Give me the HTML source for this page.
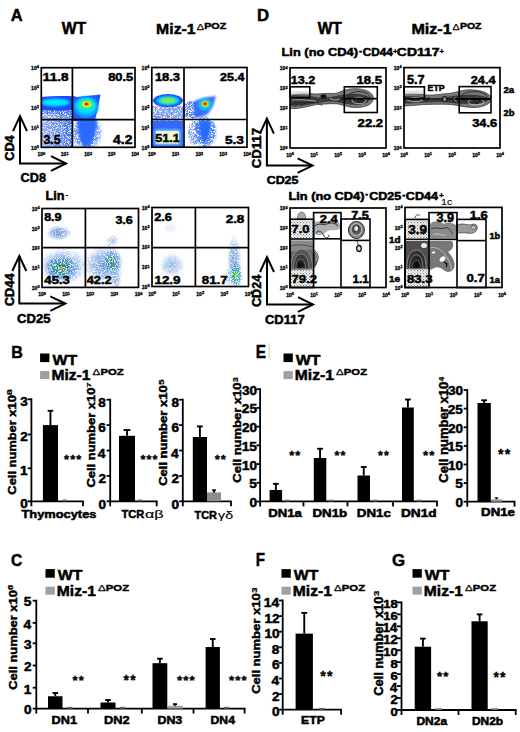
<!DOCTYPE html>
<html><head><meta charset="utf-8"><style>
html,body{margin:0;padding:0;background:#fff;overflow:hidden;}
svg{display:block;}
text{font-family:"Liberation Sans",sans-serif;font-weight:bold;fill:#000;}
</style></head><body>
<svg width="520" height="732" viewBox="0 0 520 732">
<defs>
<filter id="b05" x="-30%" y="-30%" width="160%" height="160%"><feGaussianBlur stdDeviation="0.5"/></filter>
<filter id="b1" x="-30%" y="-30%" width="160%" height="160%"><feGaussianBlur stdDeviation="1"/></filter>
<filter id="b2" x="-30%" y="-30%" width="160%" height="160%"><feGaussianBlur stdDeviation="2"/></filter>
<filter id="b3" x="-30%" y="-30%" width="160%" height="160%"><feGaussianBlur stdDeviation="3"/></filter>
<radialGradient id="gDP">
 <stop offset="0" stop-color="#c00000"/>
 <stop offset="0.12" stop-color="#ff6000"/>
 <stop offset="0.22" stop-color="#ffee00"/>
 <stop offset="0.36" stop-color="#50ff40"/>
 <stop offset="0.55" stop-color="#00f0ff"/>
 <stop offset="0.8" stop-color="#0090ff"/>
 <stop offset="1" stop-color="#1a55ff" stop-opacity="0"/>
</radialGradient>
<radialGradient id="gDP2">
 <stop offset="0" stop-color="#d00000"/>
 <stop offset="0.15" stop-color="#ff5000"/>
 <stop offset="0.3" stop-color="#e8f000"/>
 <stop offset="0.45" stop-color="#30e080"/>
 <stop offset="0.65" stop-color="#10a0ff"/>
 <stop offset="1" stop-color="#1a55ff" stop-opacity="0"/>
</radialGradient>
<radialGradient id="gBand2">
 <stop offset="0" stop-color="#a0f040"/>
 <stop offset="0.25" stop-color="#40f0a0"/>
 <stop offset="0.5" stop-color="#00e0ff"/>
 <stop offset="0.78" stop-color="#0a70ff"/>
 <stop offset="1" stop-color="#1a50ff" stop-opacity="0"/>
</radialGradient>
<radialGradient id="gLin">
 <stop offset="0" stop-color="#308040"/>
 <stop offset="0.2" stop-color="#309060"/>
 <stop offset="0.45" stop-color="#3090a8" stop-opacity="0.9"/>
 <stop offset="0.75" stop-color="#5a90d8" stop-opacity="0.7"/>
 <stop offset="1" stop-color="#90b0e8" stop-opacity="0"/>
</radialGradient>
<radialGradient id="gLinF">
 <stop offset="0" stop-color="#5088d0" stop-opacity="0.8"/>
 <stop offset="0.6" stop-color="#70a0e0" stop-opacity="0.55"/>
 <stop offset="1" stop-color="#a0c0e8" stop-opacity="0"/>
</radialGradient>
<radialGradient id="gLinY">
 <stop offset="0" stop-color="#c0d000"/>
 <stop offset="0.3" stop-color="#30c080"/>
 <stop offset="0.6" stop-color="#3090d0" stop-opacity="0.8"/>
 <stop offset="1" stop-color="#80b0e8" stop-opacity="0"/>
</radialGradient>
<radialGradient id="gGray">
 <stop offset="0" stop-color="#202020"/>
 <stop offset="0.5" stop-color="#606060"/>
 <stop offset="0.85" stop-color="#a0a0a0"/>
 <stop offset="1" stop-color="#d0d0d0" stop-opacity="0"/>
</radialGradient>
<pattern id="stip" width="3" height="3" patternUnits="userSpaceOnUse">
 <rect width="3" height="3" fill="#fff"/><rect x="0" y="0" width="1.2" height="1.2" fill="#777"/><rect x="1.5" y="1.5" width="1.2" height="1.2" fill="#999"/>
</pattern>
<filter id="spk" x="-5%" y="-5%" width="110%" height="110%">
 <feTurbulence type="fractalNoise" baseFrequency="1.3" numOctaves="2" seed="5" result="n"/>
 <feColorMatrix in="n" type="matrix" values="0 0 0 0 0  0 0 0 0 0  0 0 0 0 0  -7 0 0 0 4.35" result="m"/>
 <feComposite in="SourceGraphic" in2="m" operator="in" result="c"/>
 <feGaussianBlur in="c" stdDeviation="0.35"/>
</filter>
</defs>

<rect width="520" height="732" fill="#fff"/>
<text x="10.74" y="21.45" font-size="17.39" textLength="11.86" lengthAdjust="spacingAndGlyphs" stroke="#000" stroke-width="0.5">A</text>
<text x="61.65" y="34.35" font-size="16.09" textLength="24.45" lengthAdjust="spacingAndGlyphs" stroke="#000" stroke-width="0.5">WT</text>
<text x="156.13" y="34.05" font-size="15.03" textLength="39.42" lengthAdjust="spacingAndGlyphs" stroke="#000" stroke-width="0.5">Miz-1</text>
<text x="196.67" y="29.6" font-size="9.71" textLength="7.27" lengthAdjust="spacingAndGlyphs" stroke="#000" stroke-width="0.25" style="font-weight:normal">Δ</text><text x="204.18" y="29.49" font-size="9.38" textLength="22.03" lengthAdjust="spacingAndGlyphs" stroke="#000" stroke-width="0.45">POZ</text>
<text x="257.06" y="21.45" font-size="17.39" textLength="12.1" lengthAdjust="spacingAndGlyphs" stroke="#000" stroke-width="0.5">D</text>
<text x="317.65" y="34.35" font-size="16.09" textLength="24.15" lengthAdjust="spacingAndGlyphs" stroke="#000" stroke-width="0.5">WT</text>
<text x="411.4" y="34.05" font-size="15.03" textLength="40.25" lengthAdjust="spacingAndGlyphs" stroke="#000" stroke-width="0.5">Miz-1</text>
<text x="452.58" y="29.6" font-size="9.71" textLength="7.11" lengthAdjust="spacingAndGlyphs" stroke="#000" stroke-width="0.25" style="font-weight:normal">Δ</text><text x="459.93" y="29.49" font-size="9.38" textLength="21.57" lengthAdjust="spacingAndGlyphs" stroke="#000" stroke-width="0.45">POZ</text>
<clipPath id="cA1"><rect x="41.3" y="67.7" width="93.7" height="79.60000000000001"/></clipPath>
<g clip-path="url(#cA1)">
<defs><linearGradient id="gLL" x1="0" y1="0" x2="1" y2="0"><stop offset="0" stop-color="#8eaaf2"/><stop offset="0.55" stop-color="#6a90f0"/><stop offset="1" stop-color="#3a70f8"/></linearGradient></defs>
<rect x="41" y="106" width="32" height="42" fill="#e6edfc"/>
<g filter="url(#spk)">
<rect x="41" y="106" width="32" height="42" fill="url(#gLL)"/>
<rect x="41" y="106" width="32" height="8" fill="#4a78f4"/>
<ellipse cx="86.5" cy="133" rx="14" ry="16" fill="#5a88f4" filter="url(#b2)"/>
</g>
<path d="M41,97 C52,95.8 64,95.8 76,96.5 L76,110 C64,110.5 52,110.5 41,110 Z" fill="#1a4cff" filter="url(#b05)"/>
<ellipse cx="55.5" cy="102.6" rx="14" ry="3.9" fill="#00e8ff" filter="url(#b1)"/>
<path d="M72,97.5 L100.5,94.5 L99.5,100 L97.5,110 L95.5,118 L94,121 L72,121 Z" fill="#1a58ff" filter="url(#b05)"/>
<ellipse cx="86" cy="107" rx="12.5" ry="10.5" fill="#10a0ff" filter="url(#b1)"/>
<ellipse cx="86" cy="106" rx="10" ry="8" fill="#00e0ff" filter="url(#b1)"/>
<ellipse cx="86.5" cy="104.6" rx="7" ry="4.5" fill="#40ff60" filter="url(#b1)"/>
<ellipse cx="86.6" cy="104.2" rx="4" ry="2.7" fill="#ffee00" filter="url(#b05)"/>
<ellipse cx="86.6" cy="104.1" rx="2.2" ry="1.5" fill="#e02000" filter="url(#b05)"/>
<path d="M77,119 L97,119 L96,129 L93.5,139 L90,146 L83,146.5 L80,139 L78,128 Z" fill="#2a6aff" filter="url(#b1)"/>
</g>
<rect x="41.3" y="67.7" width="93.7" height="79.6" fill="none" stroke="#000" stroke-width="1.7"/>
<line x1="72.4" y1="67.7" x2="72.4" y2="147.3" stroke="#000" stroke-width="1.7"/>
<line x1="41.3" y1="119.6" x2="135" y2="119.6" stroke="#000" stroke-width="1.7"/>
<text x="42.87" y="81.44" font-size="11.27" textLength="25.6" lengthAdjust="spacingAndGlyphs" stroke="#000" stroke-width="0.5">11.8</text>
<text x="108.16" y="81.44" font-size="11.27" textLength="25.02" lengthAdjust="spacingAndGlyphs" stroke="#000" stroke-width="0.5">80.5</text>
<text x="43.44" y="143.93" font-size="11.97" textLength="17.22" lengthAdjust="spacingAndGlyphs" stroke="#000" stroke-width="0.5">3.5</text>
<text x="113.14" y="144.05" font-size="12.14" textLength="19.26" lengthAdjust="spacingAndGlyphs" stroke="#000" stroke-width="0.5">4.2</text>
<g stroke="#000" stroke-width="0.3"><text x="41.3" y="156.3" font-size="5.0" text-anchor="middle">10<tspan dy="-1.6" font-size="3.8">0</tspan></text><text x="38.8" y="149.6" font-size="5.0" text-anchor="end">10<tspan dy="-1.6" font-size="3.8">0</tspan></text><text x="64.7" y="156.3" font-size="5.0" text-anchor="middle">10<tspan dy="-1.6" font-size="3.8">1</tspan></text><text x="38.8" y="129.7" font-size="5.0" text-anchor="end">10<tspan dy="-1.6" font-size="3.8">1</tspan></text><text x="88.2" y="156.3" font-size="5.0" text-anchor="middle">10<tspan dy="-1.6" font-size="3.8">2</tspan></text><text x="38.8" y="109.8" font-size="5.0" text-anchor="end">10<tspan dy="-1.6" font-size="3.8">2</tspan></text><text x="111.6" y="156.3" font-size="5.0" text-anchor="middle">10<tspan dy="-1.6" font-size="3.8">3</tspan></text><text x="38.8" y="89.9" font-size="5.0" text-anchor="end">10<tspan dy="-1.6" font-size="3.8">3</tspan></text><text x="135.0" y="156.3" font-size="5.0" text-anchor="middle">10<tspan dy="-1.6" font-size="3.8">4</tspan></text><text x="38.8" y="70.0" font-size="5.0" text-anchor="end">10<tspan dy="-1.6" font-size="3.8">4</tspan></text></g>
<clipPath id="cA2"><rect x="151.8" y="67.5" width="95.19999999999999" height="79.69999999999999"/></clipPath>
<g clip-path="url(#cA2)">
<rect x="152" y="106" width="32" height="15" fill="#e6edfc"/>
<g filter="url(#spk)">
<rect x="152" y="106" width="32" height="15" fill="#7a9cf0"/>
<ellipse cx="192" cy="110" rx="10" ry="9" fill="#5a88f0"/>
<ellipse cx="194" cy="133" rx="6" ry="12" fill="#8aa8f0"/>
<ellipse cx="205" cy="132" rx="11" ry="15" fill="#4a80f4" filter="url(#b1)"/>
</g>
<rect x="152" y="121" width="31" height="26" fill="#3068ff" filter="url(#b05)"/>
<rect x="154.5" y="129.5" width="26" height="15.5" rx="2" fill="#70d0f4" filter="url(#b1)"/>
<rect x="156" y="131" width="23" height="12.5" rx="1" fill="#f2f8d4" filter="url(#b05)"/>
<ellipse cx="168" cy="100.6" rx="15" ry="6.6" fill="#1a50ff" filter="url(#b05)"/>
<ellipse cx="168" cy="100.6" rx="11.5" ry="4.4" fill="#00e0ff" filter="url(#b1)"/>
<ellipse cx="168" cy="100.6" rx="8" ry="2.8" fill="#80f040" filter="url(#b1)"/>
<path d="M194,101 L205,97.5 L216,96 L213,106 L208,114 L200,117.5 L194,116 Z" fill="#3068ff" opacity="0.95" filter="url(#b1)"/>
<ellipse cx="205" cy="104.5" rx="7" ry="6" fill="#10c0ff" filter="url(#b1)"/>
<ellipse cx="205.2" cy="104" rx="4.2" ry="3.5" fill="#60f040" filter="url(#b05)"/>
<ellipse cx="205.2" cy="103.9" rx="2.8" ry="2.3" fill="#ffd000" filter="url(#b05)"/>
<ellipse cx="205.2" cy="103.8" rx="1.8" ry="1.5" fill="#e02000" filter="url(#b05)"/>
<path d="M199,121 L211,121 L210,132 L207.5,140 L204,143 L201,138 L199.5,130 Z" fill="#2a6aff" filter="url(#b1)"/>
</g>
<rect x="151.8" y="67.5" width="95.2" height="79.7" fill="none" stroke="#000" stroke-width="1.7"/>
<line x1="184" y1="67.5" x2="184" y2="147.2" stroke="#000" stroke-width="1.7"/>
<line x1="151.8" y1="119.5" x2="247" y2="119.5" stroke="#000" stroke-width="1.7"/>
<text x="154.92" y="80.74" font-size="10.99" textLength="25" lengthAdjust="spacingAndGlyphs" stroke="#000" stroke-width="0.5">18.3</text>
<text x="220.11" y="80.74" font-size="10.99" textLength="24.21" lengthAdjust="spacingAndGlyphs" stroke="#000" stroke-width="0.5">25.4</text>
<text x="155.37" y="141.74" font-size="11.29" textLength="24.41" lengthAdjust="spacingAndGlyphs" stroke="#000" stroke-width="0.5">51.1</text>
<text x="224.94" y="143.93" font-size="11.55" textLength="18.99" lengthAdjust="spacingAndGlyphs" stroke="#000" stroke-width="0.5">5.3</text>
<g stroke="#000" stroke-width="0.3"><text x="151.8" y="156.2" font-size="5.0" text-anchor="middle">10<tspan dy="-1.6" font-size="3.8">0</tspan></text><text x="149.3" y="149.5" font-size="5.0" text-anchor="end">10<tspan dy="-1.6" font-size="3.8">0</tspan></text><text x="175.6" y="156.2" font-size="5.0" text-anchor="middle">10<tspan dy="-1.6" font-size="3.8">1</tspan></text><text x="149.3" y="129.6" font-size="5.0" text-anchor="end">10<tspan dy="-1.6" font-size="3.8">1</tspan></text><text x="199.4" y="156.2" font-size="5.0" text-anchor="middle">10<tspan dy="-1.6" font-size="3.8">2</tspan></text><text x="149.3" y="109.6" font-size="5.0" text-anchor="end">10<tspan dy="-1.6" font-size="3.8">2</tspan></text><text x="223.2" y="156.2" font-size="5.0" text-anchor="middle">10<tspan dy="-1.6" font-size="3.8">3</tspan></text><text x="149.3" y="89.7" font-size="5.0" text-anchor="end">10<tspan dy="-1.6" font-size="3.8">3</tspan></text><text x="247.0" y="156.2" font-size="5.0" text-anchor="middle">10<tspan dy="-1.6" font-size="3.8">4</tspan></text><text x="149.3" y="69.8" font-size="5.0" text-anchor="end">10<tspan dy="-1.6" font-size="3.8">4</tspan></text></g>
<path d="M20.0,116.10000000000001 L20.0,163.5 L66.0,163.5" fill="none" stroke="#000" stroke-width="2.0"/><path d="M13.0,131.10000000000002 L20.0,116.10000000000001 L27.0,131.10000000000002" fill="none" stroke="#000" stroke-width="2.0"/><path d="M51.0,156.2 L66.0,163.5 L51.0,170.8" fill="none" stroke="#000" stroke-width="2.0"/>
<text transform="translate(13.63,160.76) rotate(-90)" x="0" y="0" font-size="12.39" textLength="25.38" lengthAdjust="spacingAndGlyphs" stroke="#000" stroke-width="0.5">CD4</text>
<text x="20.64" y="181.83" font-size="12.11" textLength="25.4" lengthAdjust="spacingAndGlyphs" stroke="#000" stroke-width="0.5">CD8</text>
<text x="45.63" y="200.45" font-size="12" textLength="18.98" lengthAdjust="spacingAndGlyphs" stroke="#000" stroke-width="0.5">Lin</text>
<text x="65.71" y="197.42" font-size="5.83" textLength="1.96" lengthAdjust="spacingAndGlyphs" stroke="#000" stroke-width="0.5">-</text>
<clipPath id="cA3"><rect x="42" y="208.5" width="96.5" height="78.89999999999998"/></clipPath>
<g clip-path="url(#cA3)">
<g opacity="0.35"><ellipse cx="62" cy="267" rx="24" ry="18" fill="url(#gLinF)"/><ellipse cx="105" cy="264" rx="20" ry="20" fill="url(#gLinF)"/><ellipse cx="59" cy="233" rx="13" ry="8" fill="url(#gLinF)"/></g>
<g filter="url(#spk)">
<ellipse cx="59" cy="233" rx="13" ry="8" fill="url(#gLinF)"/>
<ellipse cx="58" cy="232.5" rx="7" ry="4" fill="#6a98dc" opacity="0.45" filter="url(#b1)"/>
<ellipse cx="112" cy="241" rx="8" ry="6" fill="url(#gLinF)" opacity="0.7" transform="rotate(-35 112 241)"/>
<ellipse cx="64" cy="266" rx="26" ry="19" fill="url(#gLinF)"/>
<ellipse cx="61" cy="268" rx="17" ry="13" fill="url(#gLin)"/>
<ellipse cx="61" cy="268.5" rx="2" ry="1.8" fill="#b08030" opacity="0.8" filter="url(#b05)"/>
<ellipse cx="104" cy="265" rx="21" ry="20" fill="url(#gLinF)"/>
<ellipse cx="112" cy="262" rx="10" ry="14" fill="url(#gLin)" opacity="0.85"/>
<ellipse cx="116" cy="279" rx="6" ry="10" fill="url(#gLinF)"/>
</g></g>
<rect x="42" y="208.5" width="96.5" height="78.9" fill="none" stroke="#000" stroke-width="1.7"/>
<line x1="85.4" y1="208.5" x2="85.4" y2="287.4" stroke="#000" stroke-width="1.7"/>
<line x1="42" y1="247.7" x2="138.5" y2="247.7" stroke="#000" stroke-width="1.7"/>
<text x="44.17" y="221.04" font-size="10.99" textLength="17.42" lengthAdjust="spacingAndGlyphs" stroke="#000" stroke-width="0.5">8.9</text>
<text x="115.44" y="223.54" font-size="10.99" textLength="17.35" lengthAdjust="spacingAndGlyphs" stroke="#000" stroke-width="0.5">3.6</text>
<text x="44.35" y="283.94" font-size="11.13" textLength="25.57" lengthAdjust="spacingAndGlyphs" stroke="#000" stroke-width="0.5">45.3</text>
<text x="86.66" y="284.05" font-size="11.29" textLength="25.02" lengthAdjust="spacingAndGlyphs" stroke="#000" stroke-width="0.5">42.2</text>
<g stroke="#000" stroke-width="0.3"><text x="42.0" y="296.4" font-size="5.0" text-anchor="middle">10<tspan dy="-1.6" font-size="3.8">0</tspan></text><text x="39.5" y="289.7" font-size="5.0" text-anchor="end">10<tspan dy="-1.6" font-size="3.8">0</tspan></text><text x="66.1" y="296.4" font-size="5.0" text-anchor="middle">10<tspan dy="-1.6" font-size="3.8">1</tspan></text><text x="39.5" y="270.0" font-size="5.0" text-anchor="end">10<tspan dy="-1.6" font-size="3.8">1</tspan></text><text x="90.2" y="296.4" font-size="5.0" text-anchor="middle">10<tspan dy="-1.6" font-size="3.8">2</tspan></text><text x="39.5" y="250.2" font-size="5.0" text-anchor="end">10<tspan dy="-1.6" font-size="3.8">2</tspan></text><text x="114.4" y="296.4" font-size="5.0" text-anchor="middle">10<tspan dy="-1.6" font-size="3.8">3</tspan></text><text x="39.5" y="230.5" font-size="5.0" text-anchor="end">10<tspan dy="-1.6" font-size="3.8">3</tspan></text><text x="138.5" y="296.4" font-size="5.0" text-anchor="middle">10<tspan dy="-1.6" font-size="3.8">4</tspan></text><text x="39.5" y="210.8" font-size="5.0" text-anchor="end">10<tspan dy="-1.6" font-size="3.8">4</tspan></text></g>
<clipPath id="cA4"><rect x="152" y="207.5" width="96.5" height="79.0"/></clipPath>
<g clip-path="url(#cA4)">
<g opacity="0.35"><ellipse cx="172" cy="265" rx="13" ry="12" fill="url(#gLinF)"/><ellipse cx="235" cy="265" rx="8" ry="26" fill="url(#gLinF)"/></g>
<g filter="url(#spk)">
<ellipse cx="172" cy="265" rx="13" ry="12" fill="url(#gLinF)" opacity="0.6"/>
<ellipse cx="170" cy="228" rx="8" ry="6" fill="url(#gLinF)" opacity="0.25"/>
<ellipse cx="234" cy="258" rx="7" ry="24" fill="url(#gLinF)"/>
<ellipse cx="229" cy="277" rx="6" ry="10" fill="url(#gLinF)" opacity="0.8"/>
<ellipse cx="236" cy="275" rx="7" ry="14" fill="url(#gLinY)"/>
</g></g>
<rect x="152" y="207.5" width="96.5" height="79" fill="none" stroke="#000" stroke-width="1.7"/>
<line x1="195.4" y1="207.5" x2="195.4" y2="286.5" stroke="#000" stroke-width="1.7"/>
<line x1="152" y1="247.7" x2="248.5" y2="247.7" stroke="#000" stroke-width="1.7"/>
<text x="154.2" y="220.74" font-size="11.13" textLength="17.69" lengthAdjust="spacingAndGlyphs" stroke="#000" stroke-width="0.5">2.6</text>
<text x="225.68" y="222.74" font-size="11.41" textLength="18.68" lengthAdjust="spacingAndGlyphs" stroke="#000" stroke-width="0.5">2.8</text>
<text x="154.48" y="283.74" font-size="11.41" textLength="26.06" lengthAdjust="spacingAndGlyphs" stroke="#000" stroke-width="0.5">12.9</text>
<text x="201.86" y="283.74" font-size="11.41" textLength="25.6" lengthAdjust="spacingAndGlyphs" stroke="#000" stroke-width="0.5">81.7</text>
<g stroke="#000" stroke-width="0.3"><text x="152.0" y="295.5" font-size="5.0" text-anchor="middle">10<tspan dy="-1.6" font-size="3.8">0</tspan></text><text x="149.5" y="288.8" font-size="5.0" text-anchor="end">10<tspan dy="-1.6" font-size="3.8">0</tspan></text><text x="176.1" y="295.5" font-size="5.0" text-anchor="middle">10<tspan dy="-1.6" font-size="3.8">1</tspan></text><text x="149.5" y="269.1" font-size="5.0" text-anchor="end">10<tspan dy="-1.6" font-size="3.8">1</tspan></text><text x="200.2" y="295.5" font-size="5.0" text-anchor="middle">10<tspan dy="-1.6" font-size="3.8">2</tspan></text><text x="149.5" y="249.3" font-size="5.0" text-anchor="end">10<tspan dy="-1.6" font-size="3.8">2</tspan></text><text x="224.4" y="295.5" font-size="5.0" text-anchor="middle">10<tspan dy="-1.6" font-size="3.8">3</tspan></text><text x="149.5" y="229.6" font-size="5.0" text-anchor="end">10<tspan dy="-1.6" font-size="3.8">3</tspan></text><text x="248.5" y="295.5" font-size="5.0" text-anchor="middle">10<tspan dy="-1.6" font-size="3.8">4</tspan></text><text x="149.5" y="209.8" font-size="5.0" text-anchor="end">10<tspan dy="-1.6" font-size="3.8">4</tspan></text></g>
<path d="M19.3,256.0 L19.3,303.6 L65.3,303.6" fill="none" stroke="#000" stroke-width="2.0"/><path d="M12.3,271.0 L19.3,256.0 L26.3,271.0" fill="none" stroke="#000" stroke-width="2.0"/><path d="M50.3,296.3 L65.3,303.6 L50.3,310.90000000000003" fill="none" stroke="#000" stroke-width="2.0"/>
<text transform="translate(14.02,306.16) rotate(-90)" x="0" y="0" font-size="12.68" textLength="32.8" lengthAdjust="spacingAndGlyphs" stroke="#000" stroke-width="0.5">CD44</text>
<text x="17.13" y="323.33" font-size="11.97" textLength="33.27" lengthAdjust="spacingAndGlyphs" stroke="#000" stroke-width="0.5">CD25</text>
<text x="281.51" y="56.2" font-size="10.83" textLength="76.46" lengthAdjust="spacingAndGlyphs" stroke="#000" stroke-width="0.5">Lin (no CD4)</text>
<text x="359.04" y="53.7" font-size="10" textLength="3" lengthAdjust="spacingAndGlyphs" stroke="#000" stroke-width="0.5">-</text>
<text x="362.78" y="55.74" font-size="10.56" textLength="30.05" lengthAdjust="spacingAndGlyphs" stroke="#000" stroke-width="0.5">CD44</text>
<text x="392.9" y="53.86" font-size="7.45" textLength="4.39" lengthAdjust="spacingAndGlyphs" stroke="#000" stroke-width="0.35">+</text>
<text x="396.89" y="55.74" font-size="10.56" textLength="42.62" lengthAdjust="spacingAndGlyphs" stroke="#000" stroke-width="0.5">CD117</text>
<text x="439.5" y="53.86" font-size="7.45" textLength="4.39" lengthAdjust="spacingAndGlyphs" stroke="#000" stroke-width="0.35">+</text>
<clipPath id="cD1"><rect x="290" y="67.8" width="96" height="80.2"/></clipPath>
<g clip-path="url(#cD1)">
<path d="M290,93.5 C298,93 310,93.5 316,94 C322,94 326,93 332,93.5 C338,94 342,90 350,89 C360,87.8 370,90 373,96 C375,102 369,107 358,107.5 C349,108 344,105 338,104 C331,103 326,104.5 320,104 C312,105 304,108 296,108.5 L290,108.5 Z" fill="#7a7a7a" stroke="#333" stroke-width="0.7"/>
<path d="M290,95.5 C300,95 310,96 318,97.5 C326,98.5 334,96 342,95 C350,93 362,93 369,97 C371,101 366,104.5 356,105 C348,105 340,102 332,101.5 C324,101.5 318,103 310,104.5 C302,106 296,106 290,105.5 Z" fill="#3a3a3a" filter="url(#b05)"/>
<path d="M290,91 L309.8,91 L309.8,94 C302,93.5 296,94 290,94.5 Z" fill="#e4e4e4" filter="url(#b05)"/>
<path d="M291,106 L296,101 M294,107 L303,100.5 M300,106 L309,101" fill="none" stroke="#222" stroke-width="0.8"/>
<path d="M292,100 C300,99 308,100.5 316,101" fill="none" stroke="#ccc" stroke-width="0.7"/>
<path d="M293,103.5 C301,102 308,103 316,102.5" fill="none" stroke="#222" stroke-width="0.8"/>
<ellipse cx="323.5" cy="96.5" rx="3" ry="2.2" fill="#111"/>
<path d="M318,101 C317,104 320,106 323,104.5" fill="none" stroke="#222" stroke-width="0.9"/>
<path d="M330,98 C333,100.5 336,100.5 339,99" fill="none" stroke="#ddd" stroke-width="0.7"/>
<ellipse cx="359" cy="97.5" rx="11" ry="6" fill="none" stroke="#222" stroke-width="0.8"/>
<ellipse cx="359" cy="100.5" rx="7" ry="3.2" fill="none" stroke="#ddd" stroke-width="0.7"/>
<ellipse cx="360" cy="101" rx="3.5" ry="1.8" fill="#222"/>
<path d="M341,98.7 L377.3,98.7" stroke="#000" stroke-width="1.8"/>
<path d="M338,95.5 L343,98.7 L338,101.5" fill="none" stroke="#333" stroke-width="0.8"/>
</g>
<rect x="290" y="67.8" width="96" height="80.2" fill="none" stroke="#000" stroke-width="1.7"/>
<rect x="290" y="86.8" width="19.8" height="11" fill="none" stroke="#000" stroke-width="1.6"/>
<rect x="344.3" y="86.8" width="33" height="25.7" fill="none" stroke="#000" stroke-width="1.6"/>
<text x="290.83" y="83.53" font-size="11.83" textLength="24.54" lengthAdjust="spacingAndGlyphs" stroke="#000" stroke-width="0.5">13.2</text>
<text x="356.5" y="83.93" font-size="11.83" textLength="25.5" lengthAdjust="spacingAndGlyphs" stroke="#000" stroke-width="0.5">18.5</text>
<text x="357.59" y="126.95" font-size="11.57" textLength="25.6" lengthAdjust="spacingAndGlyphs" stroke="#000" stroke-width="0.5">22.2</text>
<g stroke="#000" stroke-width="0.3"><text x="290.0" y="157.0" font-size="5.0" text-anchor="middle">10<tspan dy="-1.6" font-size="3.8">0</tspan></text><text x="287.5" y="150.3" font-size="5.0" text-anchor="end">10<tspan dy="-1.6" font-size="3.8">0</tspan></text><text x="314.0" y="157.0" font-size="5.0" text-anchor="middle">10<tspan dy="-1.6" font-size="3.8">1</tspan></text><text x="287.5" y="130.2" font-size="5.0" text-anchor="end">10<tspan dy="-1.6" font-size="3.8">1</tspan></text><text x="338.0" y="157.0" font-size="5.0" text-anchor="middle">10<tspan dy="-1.6" font-size="3.8">2</tspan></text><text x="287.5" y="110.2" font-size="5.0" text-anchor="end">10<tspan dy="-1.6" font-size="3.8">2</tspan></text><text x="362.0" y="157.0" font-size="5.0" text-anchor="middle">10<tspan dy="-1.6" font-size="3.8">3</tspan></text><text x="287.5" y="90.1" font-size="5.0" text-anchor="end">10<tspan dy="-1.6" font-size="3.8">3</tspan></text><text x="386.0" y="157.0" font-size="5.0" text-anchor="middle">10<tspan dy="-1.6" font-size="3.8">4</tspan></text><text x="287.5" y="70.1" font-size="5.0" text-anchor="end">10<tspan dy="-1.6" font-size="3.8">4</tspan></text></g>
<clipPath id="cD2"><rect x="404" y="67.6" width="96" height="80.4"/></clipPath>
<g clip-path="url(#cD2)">
<path d="M404,93.5 C412,93 420,93.5 426,95 C434,95.5 440,94 448,93.5 C454,93 458,91 466,90 C478,89 488,92 491,97 C492,103 486,107 474,107.5 C464,107.5 458,105 450,104.5 C440,104 432,104.5 424,104.5 C416,105 410,106 404,106 Z" fill="#767676" stroke="#333" stroke-width="0.7"/>
<path d="M404,96 C414,95.5 424,97.5 432,98 C442,98.5 452,96 462,95 C472,94 484,95 489,98.5 C488,102.5 478,104.5 468,104 C458,104 450,102.5 440,102 C430,102 420,103 410,103.5 L404,103.5 Z" fill="#3a3a3a" filter="url(#b05)"/>
<path d="M404,90.5 L424.4,90.5 L424.4,94 C418,93.5 410,93.5 404,94 Z" fill="#e4e4e4" filter="url(#b05)"/>
<path d="M406,99.5 C412,97 418,97 423,100 C418,102.5 412,102.5 406,99.5 Z" fill="none" stroke="#ddd" stroke-width="0.7"/>
<path d="M424,97 L426.5,101.5 L429,97" fill="none" stroke="#111" stroke-width="0.9"/>
<circle cx="444.7" cy="99" r="3" fill="#222"/><circle cx="444.7" cy="99" r="1.5" fill="#fff"/>
<circle cx="455.2" cy="99" r="3" fill="#333"/><circle cx="455.6" cy="99" r="1.5" fill="#eee"/>
<ellipse cx="474" cy="97" rx="13" ry="5.5" fill="none" stroke="#222" stroke-width="0.8"/>
<ellipse cx="476" cy="102" rx="8" ry="3" fill="none" stroke="#ddd" stroke-width="0.7"/>
<path d="M474,100 L477,104 L480,100" fill="none" stroke="#111" stroke-width="1"/>
<path d="M404,99 L491,99" stroke="#000" stroke-width="1.0" opacity="0.8"/>
<path d="M455,98.9 L491,98.9" stroke="#000" stroke-width="2"/>
</g>
<rect x="404" y="67.6" width="96" height="80.4" fill="none" stroke="#000" stroke-width="1.7"/>
<rect x="404" y="86.8" width="20.4" height="11.8" fill="none" stroke="#000" stroke-width="1.6"/>
<rect x="459.2" y="86.6" width="31.8" height="26.2" fill="none" stroke="#000" stroke-width="1.6"/>
<text x="406.97" y="84.13" font-size="12" textLength="17.65" lengthAdjust="spacingAndGlyphs" stroke="#000" stroke-width="0.5">5.7</text>
<text x="427.52" y="90.7" font-size="9.57" textLength="17.24" lengthAdjust="spacingAndGlyphs" stroke="#000" stroke-width="0.5">ETP</text>
<text x="470.81" y="83.85" font-size="11.43" textLength="24.73" lengthAdjust="spacingAndGlyphs" stroke="#000" stroke-width="0.5">24.4</text>
<text x="472.23" y="126.54" font-size="11.41" textLength="24.99" lengthAdjust="spacingAndGlyphs" stroke="#000" stroke-width="0.5">34.6</text>
<text x="503.57" y="93.01" font-size="9.3" textLength="10.61" lengthAdjust="spacingAndGlyphs" stroke="#000" stroke-width="0.5">2a</text>
<text x="503.57" y="115.81" font-size="9.39" textLength="11.03" lengthAdjust="spacingAndGlyphs" stroke="#000" stroke-width="0.5">2b</text>
<g stroke="#000" stroke-width="0.3"><text x="404.0" y="157.0" font-size="5.0" text-anchor="middle">10<tspan dy="-1.6" font-size="3.8">0</tspan></text><text x="401.5" y="150.3" font-size="5.0" text-anchor="end">10<tspan dy="-1.6" font-size="3.8">0</tspan></text><text x="428.0" y="157.0" font-size="5.0" text-anchor="middle">10<tspan dy="-1.6" font-size="3.8">1</tspan></text><text x="401.5" y="130.2" font-size="5.0" text-anchor="end">10<tspan dy="-1.6" font-size="3.8">1</tspan></text><text x="452.0" y="157.0" font-size="5.0" text-anchor="middle">10<tspan dy="-1.6" font-size="3.8">2</tspan></text><text x="401.5" y="110.1" font-size="5.0" text-anchor="end">10<tspan dy="-1.6" font-size="3.8">2</tspan></text><text x="476.0" y="157.0" font-size="5.0" text-anchor="middle">10<tspan dy="-1.6" font-size="3.8">3</tspan></text><text x="401.5" y="90.0" font-size="5.0" text-anchor="end">10<tspan dy="-1.6" font-size="3.8">3</tspan></text><text x="500.0" y="157.0" font-size="5.0" text-anchor="middle">10<tspan dy="-1.6" font-size="3.8">4</tspan></text><text x="401.5" y="69.9" font-size="5.0" text-anchor="end">10<tspan dy="-1.6" font-size="3.8">4</tspan></text></g>
<path d="M266.9,118.7 L266.9,165.6 L312.6,165.6" fill="none" stroke="#000" stroke-width="2.0"/><path d="M259.9,133.7 L266.9,118.7 L273.9,133.7" fill="none" stroke="#000" stroke-width="2.0"/><path d="M297.6,158.29999999999998 L312.6,165.6 L297.6,172.9" fill="none" stroke="#000" stroke-width="2.0"/>
<text transform="translate(261.42,168.28) rotate(-90)" x="0" y="0" font-size="12.82" textLength="40.26" lengthAdjust="spacingAndGlyphs" stroke="#000" stroke-width="0.5">CD117</text>
<text x="266.65" y="184.04" font-size="10.99" textLength="31.83" lengthAdjust="spacingAndGlyphs" stroke="#000" stroke-width="0.5">CD25</text>
<text x="288.42" y="200.2" font-size="10.28" textLength="76.05" lengthAdjust="spacingAndGlyphs" stroke="#000" stroke-width="0.5">Lin (no CD4)</text>
<text x="365.27" y="197.3" font-size="10" textLength="2.74" lengthAdjust="spacingAndGlyphs" stroke="#000" stroke-width="0.5">-</text>
<text x="369.25" y="199.75" font-size="10" textLength="32.04" lengthAdjust="spacingAndGlyphs" stroke="#000" stroke-width="0.5">CD25</text>
<text x="402.14" y="197.6" font-size="10" textLength="3" lengthAdjust="spacingAndGlyphs" stroke="#000" stroke-width="0.5">-</text>
<text x="405.85" y="199.75" font-size="10" textLength="32.19" lengthAdjust="spacingAndGlyphs" stroke="#000" stroke-width="0.5">CD44</text>
<text x="439.07" y="197.87" font-size="7.65" textLength="4.86" lengthAdjust="spacingAndGlyphs" stroke="#000" stroke-width="0.35">+</text>
<text x="441.1" y="205.11" font-size="9.14" textLength="11.28" lengthAdjust="spacingAndGlyphs" stroke="#000" stroke-width="0.12" style="font-weight:normal">1c</text>
<clipPath id="cD3"><rect x="290" y="208" width="96" height="79.5"/></clipPath>
<g clip-path="url(#cD3)">
<rect x="290.5" y="219.5" width="23" height="19.5" fill="url(#stip)"/>
<rect x="290.5" y="269" width="23" height="18" fill="url(#stip)"/>
<path d="M297.5,219 C297,214 300,211.5 302,212 C305,212.5 306,216 305.5,219 Z" fill="#aaa" stroke="#555" stroke-width="0.6"/>
<path d="M291,241 L313,241 L313,250 C318,251 319.5,258 317,262 C316,266 314,268 312,269 L291,269.5 Z" fill="#6a6a6a" stroke="#222" stroke-width="0.7"/>
<path d="M291,241 L313,241 L313,250 C305,249 297,250 291,252 Z" fill="#8a8a8a" filter="url(#b05)"/>
<path d="M291,246 C298,244 306,245 313,247" fill="none" stroke="#333" stroke-width="0.7"/>
<path d="M291,269 C290.5,256 296,249 302,249 C308,249 313,256 312.5,269 Z" fill="#555" stroke="#aaa" stroke-width="0.7"/>
<path d="M293.5,269 C293.5,259 297,254 301,254 C306,254 309,260 309,269 Z" fill="#3a3a3a" stroke="#999" stroke-width="0.7"/>
<path d="M296,268.5 C296,262 298,259 300.5,259 C303.5,259 305.5,263 305.5,268.5 Z" fill="#262626" stroke="#999" stroke-width="0.6"/>
<ellipse cx="300" cy="265.5" rx="2.6" ry="3" fill="#111"/>
<path d="M313,251 C317,252 318.5,257 316,261" fill="none" stroke="#ddd" stroke-width="0.7"/>
<path d="M314.5,222 C320,219.5 326,224 330,222 C334,220 338,221 340,224 L340,229 C336,231 330,229 326,232 C322,236 318,236 315,234 Z" fill="#b0b0b0" filter="url(#b05)"/>
<path d="M315,226 C319,222 323,226 327,224 C331,222 335,223 338,226" fill="none" stroke="#222" stroke-width="0.9"/>
<path d="M316,233 C319,229 322,232 324,236 C326,239 329,238 329,235" fill="none" stroke="#222" stroke-width="0.9"/>
<ellipse cx="356.4" cy="230" rx="8" ry="8.5" fill="#888" stroke="#222" stroke-width="1"/>
<ellipse cx="356.4" cy="229.5" rx="5.3" ry="5.8" fill="#555" stroke="#ddd" stroke-width="0.8"/>
<ellipse cx="356.2" cy="228.5" rx="2.5" ry="3" fill="#eee" stroke="#222" stroke-width="1"/>
<ellipse cx="359" cy="248.5" rx="2.3" ry="3" fill="#ddd" stroke="#111" stroke-width="1.3"/>
<path d="M357,241 C358,243 358,244.5 358.5,245.5" fill="none" stroke="#222" stroke-width="1"/>
</g>
<rect x="290" y="208" width="96" height="79.5" fill="none" stroke="#000" stroke-width="1.7"/>
<rect x="290" y="219.2" width="23.6" height="68.3" fill="none" stroke="#000" stroke-width="1.6"/>
<line x1="290" y1="239" x2="313.6" y2="239" stroke="#000" stroke-width="1.6"/>
<rect x="313.6" y="212.6" width="27.4" height="26.2" fill="none" stroke="#000" stroke-width="1.6"/>
<rect x="341" y="219" width="29" height="68.5" fill="none" stroke="#000" stroke-width="1.6"/>
<line x1="341" y1="240.4" x2="370" y2="240.4" stroke="#000" stroke-width="1.6"/>
<text x="291.57" y="233.23" font-size="11.55" textLength="17.9" lengthAdjust="spacingAndGlyphs" stroke="#000" stroke-width="0.5">7.0</text>
<text x="291.56" y="282.83" font-size="11.83" textLength="25.64" lengthAdjust="spacingAndGlyphs" stroke="#000" stroke-width="0.5">79.2</text>
<text x="319.7" y="222.55" font-size="11.43" textLength="18.02" lengthAdjust="spacingAndGlyphs" stroke="#000" stroke-width="0.5">2.4</text>
<text x="351.28" y="219.04" font-size="11.43" textLength="17.69" lengthAdjust="spacingAndGlyphs" stroke="#000" stroke-width="0.5">7.5</text>
<text x="352.48" y="282.95" font-size="11.59" textLength="16.47" lengthAdjust="spacingAndGlyphs" stroke="#000" stroke-width="0.5">1.1</text>
<g stroke="#000" stroke-width="0.3"><text x="290.0" y="296.5" font-size="5.0" text-anchor="middle">10<tspan dy="-1.6" font-size="3.8">0</tspan></text><text x="287.5" y="289.8" font-size="5.0" text-anchor="end">10<tspan dy="-1.6" font-size="3.8">0</tspan></text><text x="314.0" y="296.5" font-size="5.0" text-anchor="middle">10<tspan dy="-1.6" font-size="3.8">1</tspan></text><text x="287.5" y="269.9" font-size="5.0" text-anchor="end">10<tspan dy="-1.6" font-size="3.8">1</tspan></text><text x="338.0" y="296.5" font-size="5.0" text-anchor="middle">10<tspan dy="-1.6" font-size="3.8">2</tspan></text><text x="287.5" y="250.1" font-size="5.0" text-anchor="end">10<tspan dy="-1.6" font-size="3.8">2</tspan></text><text x="362.0" y="296.5" font-size="5.0" text-anchor="middle">10<tspan dy="-1.6" font-size="3.8">3</tspan></text><text x="287.5" y="230.2" font-size="5.0" text-anchor="end">10<tspan dy="-1.6" font-size="3.8">3</tspan></text><text x="386.0" y="296.5" font-size="5.0" text-anchor="middle">10<tspan dy="-1.6" font-size="3.8">4</tspan></text><text x="287.5" y="210.3" font-size="5.0" text-anchor="end">10<tspan dy="-1.6" font-size="3.8">4</tspan></text></g>
<text x="389.06" y="242.51" font-size="8.84" textLength="11.5" lengthAdjust="spacingAndGlyphs" stroke="#000" stroke-width="0.5">1d</text>
<text x="389.06" y="281.61" font-size="9.29" textLength="11.01" lengthAdjust="spacingAndGlyphs" stroke="#000" stroke-width="0.5">1e</text>
<clipPath id="cD4"><rect x="405.0" y="207.4" width="97.0" height="80.1"/></clipPath>
<g clip-path="url(#cD4)">
<rect x="406" y="219.5" width="23" height="19.5" fill="url(#stip)"/>
<rect x="406" y="269" width="23.5" height="18" fill="url(#stip)"/>
<path d="M415,218 C415,215 418,214 420,215.5" fill="none" stroke="#333" stroke-width="0.9"/>
<path d="M406,241 L429,241 L429,269 L406,269 Z" fill="#505050" filter="url(#b05)"/>
<ellipse cx="424" cy="245.5" rx="3" ry="2.5" fill="#eee" filter="url(#b05)"/>
<path d="M407,269 C406.5,256 411,250 416.5,250 C422,250 426.5,256 426,269 Z" fill="#333" stroke="#aaa" stroke-width="0.7"/>
<path d="M409.5,269 C409.5,259 413,255 416.5,255 C420,255 423,259 423,269 Z" fill="#262626" stroke="#999" stroke-width="0.7"/>
<path d="M412,268.5 C412,263 414,260 416.5,260 C419,260 421,263 421,268.5 Z" fill="#1a1a1a" stroke="#888" stroke-width="0.6"/>
<ellipse cx="416.3" cy="265" rx="2.2" ry="3" fill="#0a0a0a"/>
<path d="M429,241 L452,241 C455,246 452,250 448,252 C452,256 456,262 454,268 C452,272 448,273 445,271 C441,268 438,266 434,268 C431,270 429.5,270 429,270 Z" fill="#777" filter="url(#b05)"/>
<path d="M430,248 C436,246 442,250 446,256 C450,262 452,266 451,270" fill="none" stroke="#ccc" stroke-width="0.8"/>
<ellipse cx="442.5" cy="259" rx="3.2" ry="2.2" fill="#fff" transform="rotate(-40 442.5 259)"/>
<path d="M444,262 L447,264 L446,267" fill="none" stroke="#000" stroke-width="1.1"/>
<ellipse cx="433.5" cy="252.5" rx="1.8" ry="1" fill="#fff"/>
<path d="M430,224 C434,220 440,221 444,224 C448,221 452,223 456,225 L456.5,238.5 L430,238.5 Z" fill="#8a8a8a" filter="url(#b05)"/>
<path d="M431,229 C436,226 440,230 444,228 C448,226 451,231 453,234" fill="none" stroke="#222" stroke-width="0.8"/>
<path d="M433,235 C437,232 441,236 446,235" fill="none" stroke="#ddd" stroke-width="0.7"/>
<path d="M457.5,225 C463,222.5 468,226 472,224.5 C476,223 478,226 477,229 C476,233 471,234 467,233 C463,232.5 460,233 457.5,233 Z" fill="#9a9a9a" stroke="#333" stroke-width="0.7"/>
<ellipse cx="473.5" cy="227.5" rx="2" ry="1.6" fill="#ddd" stroke="#333" stroke-width="0.6"/>
</g>
<rect x="405" y="207.4" width="97" height="80.1" fill="none" stroke="#000" stroke-width="1.7"/>
<rect x="405" y="219.4" width="24" height="68.1" fill="none" stroke="#000" stroke-width="1.6"/>
<line x1="405" y1="239.4" x2="429" y2="239.4" stroke="#000" stroke-width="1.6"/>
<rect x="429" y="212.6" width="28" height="26.8" fill="none" stroke="#000" stroke-width="1.6"/>
<rect x="457" y="219.4" width="29" height="68.1" fill="none" stroke="#000" stroke-width="1.6"/>
<line x1="457" y1="240.6" x2="486" y2="240.6" stroke="#000" stroke-width="1.6"/>
<text x="408.31" y="233.53" font-size="11.97" textLength="18.81" lengthAdjust="spacingAndGlyphs" stroke="#000" stroke-width="0.5">3.9</text>
<text x="406.95" y="282.83" font-size="11.83" textLength="25.67" lengthAdjust="spacingAndGlyphs" stroke="#000" stroke-width="0.5">83.3</text>
<text x="436.53" y="222.23" font-size="11.97" textLength="17.56" lengthAdjust="spacingAndGlyphs" stroke="#000" stroke-width="0.5">3.9</text>
<text x="469.7" y="219.03" font-size="11.55" textLength="18.1" lengthAdjust="spacingAndGlyphs" stroke="#000" stroke-width="0.5">1.6</text>
<text x="466.53" y="282.24" font-size="11.41" textLength="18.22" lengthAdjust="spacingAndGlyphs" stroke="#000" stroke-width="0.5">0.7</text>
<text x="489.41" y="238.82" font-size="8.44" textLength="10.68" lengthAdjust="spacingAndGlyphs" stroke="#000" stroke-width="0.5">1b</text>
<text x="489.49" y="282.51" font-size="8.86" textLength="10.38" lengthAdjust="spacingAndGlyphs" stroke="#000" stroke-width="0.5">1a</text>
<g stroke="#000" stroke-width="0.3"><text x="405.0" y="296.5" font-size="5.0" text-anchor="middle">10<tspan dy="-1.6" font-size="3.8">0</tspan></text><text x="402.5" y="289.8" font-size="5.0" text-anchor="end">10<tspan dy="-1.6" font-size="3.8">0</tspan></text><text x="429.2" y="296.5" font-size="5.0" text-anchor="middle">10<tspan dy="-1.6" font-size="3.8">1</tspan></text><text x="402.5" y="269.8" font-size="5.0" text-anchor="end">10<tspan dy="-1.6" font-size="3.8">1</tspan></text><text x="453.5" y="296.5" font-size="5.0" text-anchor="middle">10<tspan dy="-1.6" font-size="3.8">2</tspan></text><text x="402.5" y="249.8" font-size="5.0" text-anchor="end">10<tspan dy="-1.6" font-size="3.8">2</tspan></text><text x="477.8" y="296.5" font-size="5.0" text-anchor="middle">10<tspan dy="-1.6" font-size="3.8">3</tspan></text><text x="402.5" y="229.7" font-size="5.0" text-anchor="end">10<tspan dy="-1.6" font-size="3.8">3</tspan></text><text x="502.0" y="296.5" font-size="5.0" text-anchor="middle">10<tspan dy="-1.6" font-size="3.8">4</tspan></text><text x="402.5" y="209.7" font-size="5.0" text-anchor="end">10<tspan dy="-1.6" font-size="3.8">4</tspan></text></g>
<path d="M267,257.0 L267,304.5 L313.0,304.5" fill="none" stroke="#000" stroke-width="2.0"/><path d="M260,272.0 L267,257.0 L274,272.0" fill="none" stroke="#000" stroke-width="2.0"/><path d="M298.0,297.2 L313.0,304.5 L298.0,311.8" fill="none" stroke="#000" stroke-width="2.0"/>
<text transform="translate(260.53,307.05) rotate(-90)" x="0" y="0" font-size="12.25" textLength="32.19" lengthAdjust="spacingAndGlyphs" stroke="#000" stroke-width="0.5">CD24</text>
<text x="265.03" y="323.73" font-size="11.97" textLength="39.64" lengthAdjust="spacingAndGlyphs" stroke="#000" stroke-width="0.5">CD117</text>
<text x="11.31" y="358.45" font-size="17.39" textLength="11.6" lengthAdjust="spacingAndGlyphs" stroke="#000" stroke-width="0.5">B</text>
<rect x="40.1" y="353.5" width="9.3" height="8.6" fill="#000"/><rect x="40.1" y="371.1" width="9.3" height="8" fill="#a0a0a0"/><text x="52.45" y="364.55" font-size="14.93" textLength="24.65" lengthAdjust="spacingAndGlyphs" stroke="#000" stroke-width="0.5">WT</text><text x="51.43" y="380.35" font-size="15.31" textLength="39.11" lengthAdjust="spacingAndGlyphs" stroke="#000" stroke-width="0.5">Miz-1</text><text x="92.56" y="375.4" font-size="9.86" textLength="7.66" lengthAdjust="spacingAndGlyphs" stroke="#000" stroke-width="0.25" style="font-weight:normal">Δ</text><text x="100.45" y="375.28" font-size="9.52" textLength="23.18" lengthAdjust="spacingAndGlyphs" stroke="#000" stroke-width="0.45">POZ</text>
<line x1="31.4" y1="398.4" x2="31.4" y2="502.2" stroke="#000" stroke-width="1.8"/><line x1="27.8" y1="501.3" x2="31.4" y2="501.3" stroke="#000" stroke-width="1.8"/><text x="20.31" y="507.58" font-size="12.39" textLength="7.55" lengthAdjust="spacingAndGlyphs" stroke="#000" stroke-width="0.5">0</text><line x1="27.8" y1="468.3" x2="31.4" y2="468.3" stroke="#000" stroke-width="1.8"/><text x="20" y="474.7" font-size="12.75" textLength="7.66" lengthAdjust="spacingAndGlyphs" stroke="#000" stroke-width="0.5">1</text><line x1="27.8" y1="434.5" x2="31.4" y2="434.5" stroke="#000" stroke-width="1.8"/><text x="20.31" y="440.9" font-size="12.57" textLength="7.55" lengthAdjust="spacingAndGlyphs" stroke="#000" stroke-width="0.5">2</text><line x1="27.8" y1="399.3" x2="31.4" y2="399.3" stroke="#000" stroke-width="1.8"/><text x="20.24" y="405.58" font-size="12.39" textLength="7.55" lengthAdjust="spacingAndGlyphs" stroke="#000" stroke-width="0.5">3</text>
<line x1="30.5" y1="501.3" x2="83.9" y2="501.3" stroke="#000" stroke-width="1.8"/><line x1="31.4" y1="501.3" x2="31.4" y2="506.3" stroke="#000" stroke-width="1.8"/><line x1="83" y1="501.3" x2="83" y2="506.3" stroke="#000" stroke-width="1.8"/>
<rect x="42.9" y="425.1" width="15.1" height="76.2" fill="#000"/><line x1="50.45" y1="410.8" x2="50.45" y2="425.1" stroke="#000" stroke-width="1.9"/><line x1="47.65" y1="410.8" x2="53.25" y2="410.8" stroke="#000" stroke-width="1.9"/>
<rect x="62.7" y="499.5" width="3.9" height="1.8" fill="#6a6a6a"/>
<text x="66.55" y="463.94" font-size="12.75" text-anchor="middle" stroke="#000" stroke-width="0.35">*</text><text x="72.65" y="463.94" font-size="12.75" text-anchor="middle" stroke="#000" stroke-width="0.35">*</text><text x="78.75" y="463.94" font-size="12.75" text-anchor="middle" stroke="#000" stroke-width="0.35">*</text>
<text x="21.47" y="518" font-size="11.24" textLength="74.95" lengthAdjust="spacingAndGlyphs" stroke="#000" stroke-width="0.5">Thymocytes</text>
<text transform="translate(15.53,494.67) rotate(-90)" x="0" y="0" font-size="11.84" textLength="99.53" lengthAdjust="spacingAndGlyphs" stroke="#000" stroke-width="0.5">Cell number x10</text>
<text transform="translate(12.23,395.13) rotate(-90)" x="0" y="0" font-size="7.46" textLength="6.07" lengthAdjust="spacingAndGlyphs" stroke="#000" stroke-width="0.25">8</text>
<line x1="110.2" y1="398.8" x2="110.2" y2="502.2" stroke="#000" stroke-width="1.8"/><line x1="106.6" y1="501.3" x2="110.2" y2="501.3" stroke="#000" stroke-width="1.8"/><text x="98.41" y="508.58" font-size="12.39" textLength="7.55" lengthAdjust="spacingAndGlyphs" stroke="#000" stroke-width="0.5">0</text><line x1="106.6" y1="475.9" x2="110.2" y2="475.9" stroke="#000" stroke-width="1.8"/><text x="98.41" y="483.3" font-size="12.57" textLength="7.55" lengthAdjust="spacingAndGlyphs" stroke="#000" stroke-width="0.5">2</text><line x1="106.6" y1="450.5" x2="110.2" y2="450.5" stroke="#000" stroke-width="1.8"/><text x="97.82" y="457.9" font-size="12.75" textLength="7.66" lengthAdjust="spacingAndGlyphs" stroke="#000" stroke-width="0.5">4</text><line x1="106.6" y1="425.1" x2="110.2" y2="425.1" stroke="#000" stroke-width="1.8"/><text x="98.34" y="432.38" font-size="12.39" textLength="7.55" lengthAdjust="spacingAndGlyphs" stroke="#000" stroke-width="0.5">6</text><line x1="106.6" y1="399.7" x2="110.2" y2="399.7" stroke="#000" stroke-width="1.8"/><text x="98.27" y="406.98" font-size="12.39" textLength="7.55" lengthAdjust="spacingAndGlyphs" stroke="#000" stroke-width="0.5">8</text>
<line x1="109.3" y1="501.3" x2="157.6" y2="501.3" stroke="#000" stroke-width="1.8"/><line x1="110.2" y1="501.3" x2="110.2" y2="506.3" stroke="#000" stroke-width="1.8"/><line x1="156.7" y1="501.3" x2="156.7" y2="506.3" stroke="#000" stroke-width="1.8"/>
<rect x="119" y="435.8" width="16" height="65.5" fill="#000"/><line x1="127" y1="430" x2="127" y2="435.8" stroke="#000" stroke-width="1.9"/><line x1="123.6" y1="430" x2="130.4" y2="430" stroke="#000" stroke-width="1.9"/>
<rect x="138" y="499.5" width="4.3" height="1.8" fill="#6a6a6a"/>
<text x="142.93" y="464.40" font-size="12.67" text-anchor="middle" stroke="#000" stroke-width="0.35">*</text><text x="149.00" y="464.40" font-size="12.67" text-anchor="middle" stroke="#000" stroke-width="0.35">*</text><text x="155.07" y="464.40" font-size="12.67" text-anchor="middle" stroke="#000" stroke-width="0.35">*</text>
<text x="121.54" y="518" font-size="10.93" textLength="22.84" lengthAdjust="spacingAndGlyphs" stroke="#000" stroke-width="0.5">TCR</text>
<text x="145.01" y="518" font-size="10.55" textLength="18.56" lengthAdjust="spacingAndGlyphs" stroke="#000" stroke-width="0.15" style="font-weight:normal">αβ</text>
<text transform="translate(95.03,487.57) rotate(-90)" x="0" y="0" font-size="11.84" textLength="100.04" lengthAdjust="spacingAndGlyphs" stroke="#000" stroke-width="0.5">Cell number x10</text>
<text transform="translate(90.6,387.74) rotate(-90)" x="0" y="0" font-size="5.94" textLength="5.38" lengthAdjust="spacingAndGlyphs" stroke="#000" stroke-width="0.25">7</text>
<line x1="182.8" y1="398.8" x2="182.8" y2="502.2" stroke="#000" stroke-width="1.8"/><line x1="179.2" y1="501.3" x2="182.8" y2="501.3" stroke="#000" stroke-width="1.8"/><text x="171.61" y="508.58" font-size="12.39" textLength="7.55" lengthAdjust="spacingAndGlyphs" stroke="#000" stroke-width="0.5">0</text><line x1="179.2" y1="475.9" x2="182.8" y2="475.9" stroke="#000" stroke-width="1.8"/><text x="171.61" y="483.3" font-size="12.57" textLength="7.55" lengthAdjust="spacingAndGlyphs" stroke="#000" stroke-width="0.5">2</text><line x1="179.2" y1="450.5" x2="182.8" y2="450.5" stroke="#000" stroke-width="1.8"/><text x="171.02" y="457.9" font-size="12.75" textLength="7.66" lengthAdjust="spacingAndGlyphs" stroke="#000" stroke-width="0.5">4</text><line x1="179.2" y1="425.1" x2="182.8" y2="425.1" stroke="#000" stroke-width="1.8"/><text x="171.54" y="432.38" font-size="12.39" textLength="7.55" lengthAdjust="spacingAndGlyphs" stroke="#000" stroke-width="0.5">6</text><line x1="179.2" y1="399.7" x2="182.8" y2="399.7" stroke="#000" stroke-width="1.8"/><text x="171.47" y="406.98" font-size="12.39" textLength="7.55" lengthAdjust="spacingAndGlyphs" stroke="#000" stroke-width="0.5">8</text>
<line x1="181.9" y1="501.3" x2="231.9" y2="501.3" stroke="#000" stroke-width="1.8"/><line x1="182.8" y1="501.3" x2="182.8" y2="506.3" stroke="#000" stroke-width="1.8"/><line x1="231" y1="501.3" x2="231" y2="506.3" stroke="#000" stroke-width="1.8"/>
<rect x="192.8" y="437" width="14.2" height="64.3" fill="#000"/><line x1="199.9" y1="426.4" x2="199.9" y2="437" stroke="#000" stroke-width="1.9"/><line x1="197" y1="426.4" x2="202.8" y2="426.4" stroke="#000" stroke-width="1.9"/>
<rect x="207" y="492.4" width="14" height="8.9" fill="#8c8c8c"/><line x1="214" y1="490.2" x2="214" y2="492.4" stroke="#000" stroke-width="1.9"/><line x1="212.2" y1="490.2" x2="215.8" y2="490.2" stroke="#000" stroke-width="1.9"/>
<text x="217.20" y="464.26" font-size="13.00" text-anchor="middle" stroke="#000" stroke-width="0.35">*</text><text x="223.40" y="464.26" font-size="13.00" text-anchor="middle" stroke="#000" stroke-width="0.35">*</text>
<text x="194.54" y="519.2" font-size="11.5" textLength="22.43" lengthAdjust="spacingAndGlyphs" stroke="#000" stroke-width="0.5">TCR</text>
<text x="218.08" y="519.2" font-size="11.1" textLength="14.96" lengthAdjust="spacingAndGlyphs" stroke="#000" stroke-width="0.15" style="font-weight:normal">γδ</text>
<text transform="translate(166.64,485.87) rotate(-90)" x="0" y="0" font-size="10.75" textLength="100.54" lengthAdjust="spacingAndGlyphs" stroke="#000" stroke-width="0.5">Cell number x10</text>
<text transform="translate(164.13,384.78) rotate(-90)" x="0" y="0" font-size="7" textLength="5.23" lengthAdjust="spacingAndGlyphs" stroke="#000" stroke-width="0.25">5</text>
<text x="255.85" y="358.4" font-size="17.75" textLength="10.27" lengthAdjust="spacingAndGlyphs" stroke="#000" stroke-width="0.5">E</text>
<line x1="269.2" y1="343" x2="269.2" y2="359" stroke="#bbb" stroke-width="0.8"/>
<rect x="283.5" y="353.5" width="9.3" height="8.6" fill="#000"/><rect x="283.5" y="371.1" width="9.3" height="8" fill="#a0a0a0"/><text x="295.85" y="364.55" font-size="14.93" textLength="24.65" lengthAdjust="spacingAndGlyphs" stroke="#000" stroke-width="0.5">WT</text><text x="294.83" y="380.35" font-size="15.31" textLength="39.11" lengthAdjust="spacingAndGlyphs" stroke="#000" stroke-width="0.5">Miz-1</text><text x="335.96" y="375.4" font-size="9.86" textLength="7.66" lengthAdjust="spacingAndGlyphs" stroke="#000" stroke-width="0.25" style="font-weight:normal">Δ</text><text x="343.85" y="375.28" font-size="9.52" textLength="23.18" lengthAdjust="spacingAndGlyphs" stroke="#000" stroke-width="0.45">POZ</text>
<line x1="260.1" y1="388.3" x2="260.1" y2="502.4" stroke="#000" stroke-width="1.8"/><line x1="256.5" y1="501.5" x2="260.1" y2="501.5" stroke="#000" stroke-width="1.8"/><text x="249.61" y="506.98" font-size="12.39" textLength="7.55" lengthAdjust="spacingAndGlyphs" stroke="#000" stroke-width="0.5">0</text><line x1="256.5" y1="482.78" x2="260.1" y2="482.78" stroke="#000" stroke-width="1.8"/><text x="249.3" y="488.26" font-size="12.57" textLength="7.66" lengthAdjust="spacingAndGlyphs" stroke="#000" stroke-width="0.5">5</text><line x1="256.5" y1="464.07" x2="260.1" y2="464.07" stroke="#000" stroke-width="1.8"/><text x="242.07" y="469.54" font-size="12.39" textLength="15.1" lengthAdjust="spacingAndGlyphs" stroke="#000" stroke-width="0.5">10</text><line x1="256.5" y1="445.35" x2="260.1" y2="445.35" stroke="#000" stroke-width="1.8"/><text x="241.66" y="450.82" font-size="12.57" textLength="15.32" lengthAdjust="spacingAndGlyphs" stroke="#000" stroke-width="0.5">15</text><line x1="256.5" y1="426.63" x2="260.1" y2="426.63" stroke="#000" stroke-width="1.8"/><text x="242.07" y="432.11" font-size="12.39" textLength="15.1" lengthAdjust="spacingAndGlyphs" stroke="#000" stroke-width="0.5">20</text><line x1="256.5" y1="407.92" x2="260.1" y2="407.92" stroke="#000" stroke-width="1.8"/><text x="241.87" y="413.39" font-size="12.39" textLength="15.1" lengthAdjust="spacingAndGlyphs" stroke="#000" stroke-width="0.5">25</text><line x1="256.5" y1="389.2" x2="260.1" y2="389.2" stroke="#000" stroke-width="1.8"/><text x="242.07" y="394.68" font-size="12.39" textLength="15.1" lengthAdjust="spacingAndGlyphs" stroke="#000" stroke-width="0.5">30</text>
<line x1="259.2" y1="501.4" x2="437.9" y2="501.4" stroke="#000" stroke-width="1.8"/><line x1="260.1" y1="501.4" x2="260.1" y2="506.4" stroke="#000" stroke-width="1.8"/><line x1="303.5" y1="501.4" x2="303.5" y2="506.4" stroke="#000" stroke-width="1.8"/><line x1="347.5" y1="501.4" x2="347.5" y2="506.4" stroke="#000" stroke-width="1.8"/><line x1="393" y1="501.4" x2="393" y2="506.4" stroke="#000" stroke-width="1.8"/><line x1="437" y1="501.4" x2="437" y2="506.4" stroke="#000" stroke-width="1.8"/>
<rect x="269.6" y="490" width="12.5" height="11.5" fill="#000"/><line x1="275.85" y1="483.8" x2="275.85" y2="490" stroke="#000" stroke-width="1.9"/><line x1="272.95" y1="483.8" x2="278.75" y2="483.8" stroke="#000" stroke-width="1.9"/>
<rect x="285.4" y="499.7" width="4.4" height="1.8" fill="#6a6a6a"/>
<rect x="313.8" y="458" width="12.5" height="43.5" fill="#000"/><line x1="320.05" y1="448.75" x2="320.05" y2="458" stroke="#000" stroke-width="1.9"/><line x1="317.15" y1="448.75" x2="322.95" y2="448.75" stroke="#000" stroke-width="1.9"/>
<rect x="329" y="499.7" width="4.5" height="1.8" fill="#6a6a6a"/>
<rect x="357.5" y="475.5" width="12.5" height="26" fill="#000"/><line x1="363.75" y1="467" x2="363.75" y2="475.5" stroke="#000" stroke-width="1.9"/><line x1="360.85" y1="467" x2="366.65" y2="467" stroke="#000" stroke-width="1.9"/>
<rect x="373" y="499.7" width="4.5" height="1.8" fill="#6a6a6a"/>
<rect x="402" y="407.5" width="11.8" height="94" fill="#000"/><line x1="407.9" y1="399.5" x2="407.9" y2="407.5" stroke="#000" stroke-width="1.9"/><line x1="405" y1="399.5" x2="410.8" y2="399.5" stroke="#000" stroke-width="1.9"/>
<rect x="417" y="499.7" width="4.5" height="1.8" fill="#6a6a6a"/>
<text x="291.75" y="459.84" font-size="12.75" text-anchor="middle" stroke="#000" stroke-width="0.35">*</text><text x="297.85" y="459.84" font-size="12.75" text-anchor="middle" stroke="#000" stroke-width="0.35">*</text>
<text x="337.00" y="459.71" font-size="12.50" text-anchor="middle" stroke="#000" stroke-width="0.35">*</text><text x="343.00" y="459.71" font-size="12.50" text-anchor="middle" stroke="#000" stroke-width="0.35">*</text>
<text x="380.44" y="459.55" font-size="12.19" text-anchor="middle" stroke="#000" stroke-width="0.35">*</text><text x="386.31" y="459.55" font-size="12.19" text-anchor="middle" stroke="#000" stroke-width="0.35">*</text>
<text x="425.65" y="460.09" font-size="13.25" text-anchor="middle" stroke="#000" stroke-width="0.35">*</text><text x="431.95" y="460.09" font-size="13.25" text-anchor="middle" stroke="#000" stroke-width="0.35">*</text>
<text x="268.3" y="517.04" font-size="10.71" textLength="33.61" lengthAdjust="spacingAndGlyphs" stroke="#000" stroke-width="0.5">DN1a</text>
<text x="312.49" y="517.05" font-size="10.2" textLength="34.71" lengthAdjust="spacingAndGlyphs" stroke="#000" stroke-width="0.5">DN1b</text>
<text x="356.78" y="517.04" font-size="10.71" textLength="34.09" lengthAdjust="spacingAndGlyphs" stroke="#000" stroke-width="0.5">DN1c</text>
<text x="400.96" y="517.05" font-size="10.2" textLength="35.59" lengthAdjust="spacingAndGlyphs" stroke="#000" stroke-width="0.5">DN1d</text>
<text transform="translate(240.83,482.67) rotate(-90)" x="0" y="0" font-size="11.56" textLength="100.14" lengthAdjust="spacingAndGlyphs" stroke="#000" stroke-width="0.5">Cell number x10</text>
<text transform="translate(238.13,382.13) rotate(-90)" x="0" y="0" font-size="7.46" textLength="5.06" lengthAdjust="spacingAndGlyphs" stroke="#000" stroke-width="0.25">3</text>
<line x1="467.3" y1="389.1" x2="467.3" y2="502.6" stroke="#000" stroke-width="1.8"/><line x1="463.7" y1="501.7" x2="467.3" y2="501.7" stroke="#000" stroke-width="1.8"/><text x="455.51" y="506.98" font-size="12.39" textLength="7.55" lengthAdjust="spacingAndGlyphs" stroke="#000" stroke-width="0.5">0</text><line x1="463.7" y1="483.08" x2="467.3" y2="483.08" stroke="#000" stroke-width="1.8"/><text x="455.2" y="488.36" font-size="12.57" textLength="7.66" lengthAdjust="spacingAndGlyphs" stroke="#000" stroke-width="0.5">5</text><line x1="463.7" y1="464.47" x2="467.3" y2="464.47" stroke="#000" stroke-width="1.8"/><text x="447.97" y="469.74" font-size="12.39" textLength="15.1" lengthAdjust="spacingAndGlyphs" stroke="#000" stroke-width="0.5">10</text><line x1="463.7" y1="445.85" x2="467.3" y2="445.85" stroke="#000" stroke-width="1.8"/><text x="447.56" y="451.12" font-size="12.57" textLength="15.32" lengthAdjust="spacingAndGlyphs" stroke="#000" stroke-width="0.5">15</text><line x1="463.7" y1="427.23" x2="467.3" y2="427.23" stroke="#000" stroke-width="1.8"/><text x="447.97" y="432.51" font-size="12.39" textLength="15.1" lengthAdjust="spacingAndGlyphs" stroke="#000" stroke-width="0.5">20</text><line x1="463.7" y1="408.62" x2="467.3" y2="408.62" stroke="#000" stroke-width="1.8"/><text x="447.77" y="413.89" font-size="12.39" textLength="15.1" lengthAdjust="spacingAndGlyphs" stroke="#000" stroke-width="0.5">25</text><line x1="463.7" y1="390" x2="467.3" y2="390" stroke="#000" stroke-width="1.8"/><text x="447.97" y="395.28" font-size="12.39" textLength="15.1" lengthAdjust="spacingAndGlyphs" stroke="#000" stroke-width="0.5">30</text>
<line x1="466.4" y1="501.7" x2="515.4" y2="501.7" stroke="#000" stroke-width="1.8"/><line x1="467.3" y1="501.7" x2="467.3" y2="506.7" stroke="#000" stroke-width="1.8"/><line x1="514.5" y1="501.7" x2="514.5" y2="506.7" stroke="#000" stroke-width="1.8"/>
<rect x="477.5" y="403" width="13.3" height="98.7" fill="#000"/><line x1="484.15" y1="400.3" x2="484.15" y2="403" stroke="#000" stroke-width="1.9"/><line x1="481.25" y1="400.3" x2="487.05" y2="400.3" stroke="#000" stroke-width="1.9"/>
<rect x="491" y="499.4" width="11" height="2.3" fill="#999"/><line x1="496.5" y1="497.9" x2="496.5" y2="499.4" stroke="#000" stroke-width="1.2"/><line x1="494.7" y1="497.9" x2="498.3" y2="497.9" stroke="#000" stroke-width="1.2"/>
<text x="500.82" y="458.78" font-size="14.13" text-anchor="middle" stroke="#000" stroke-width="0.35">*</text><text x="507.47" y="458.78" font-size="14.13" text-anchor="middle" stroke="#000" stroke-width="0.35">*</text>
<text x="481.09" y="515.75" font-size="10.14" textLength="33.85" lengthAdjust="spacingAndGlyphs" stroke="#000" stroke-width="0.5">DN1e</text>
<text transform="translate(447.63,482.67) rotate(-90)" x="0" y="0" font-size="12.38" textLength="101.05" lengthAdjust="spacingAndGlyphs" stroke="#000" stroke-width="0.5">Cell number x10</text>
<text transform="translate(443.6,381.52) rotate(-90)" x="0" y="0" font-size="7.1" textLength="4.57" lengthAdjust="spacingAndGlyphs" stroke="#000" stroke-width="0.25">4</text>
<text x="10.98" y="565.98" font-size="17.04" textLength="11.19" lengthAdjust="spacingAndGlyphs" stroke="#000" stroke-width="0.5">C</text>
<rect x="45.5" y="569.1" width="9.3" height="8.6" fill="#000"/><rect x="45.5" y="586.7" width="9.3" height="8" fill="#a0a0a0"/><text x="57.85" y="580.15" font-size="14.93" textLength="24.65" lengthAdjust="spacingAndGlyphs" stroke="#000" stroke-width="0.5">WT</text><text x="56.83" y="595.95" font-size="15.31" textLength="39.11" lengthAdjust="spacingAndGlyphs" stroke="#000" stroke-width="0.5">Miz-1</text><text x="97.96" y="591" font-size="9.86" textLength="7.66" lengthAdjust="spacingAndGlyphs" stroke="#000" stroke-width="0.25" style="font-weight:normal">Δ</text><text x="105.85" y="590.88" font-size="9.52" textLength="23.18" lengthAdjust="spacingAndGlyphs" stroke="#000" stroke-width="0.45">POZ</text>
<line x1="36.3" y1="599.8" x2="36.3" y2="709.5" stroke="#000" stroke-width="1.8"/><line x1="32.7" y1="708.6" x2="36.3" y2="708.6" stroke="#000" stroke-width="1.8"/><text x="24.01" y="714.38" font-size="12.39" textLength="7.55" lengthAdjust="spacingAndGlyphs" stroke="#000" stroke-width="0.5">0</text><line x1="32.7" y1="687.7" x2="36.3" y2="687.7" stroke="#000" stroke-width="1.8"/><text x="23.7" y="693.6" font-size="12.75" textLength="7.66" lengthAdjust="spacingAndGlyphs" stroke="#000" stroke-width="0.5">1</text><line x1="32.7" y1="665.5" x2="36.3" y2="665.5" stroke="#000" stroke-width="1.8"/><text x="24.01" y="671.4" font-size="12.57" textLength="7.55" lengthAdjust="spacingAndGlyphs" stroke="#000" stroke-width="0.5">2</text><line x1="32.7" y1="643.3" x2="36.3" y2="643.3" stroke="#000" stroke-width="1.8"/><text x="23.94" y="649.08" font-size="12.39" textLength="7.55" lengthAdjust="spacingAndGlyphs" stroke="#000" stroke-width="0.5">3</text><line x1="32.7" y1="622.9" x2="36.3" y2="622.9" stroke="#000" stroke-width="1.8"/><text x="23.42" y="628.8" font-size="12.75" textLength="7.66" lengthAdjust="spacingAndGlyphs" stroke="#000" stroke-width="0.5">4</text><line x1="32.7" y1="600.7" x2="36.3" y2="600.7" stroke="#000" stroke-width="1.8"/><text x="23.7" y="606.47" font-size="12.57" textLength="7.66" lengthAdjust="spacingAndGlyphs" stroke="#000" stroke-width="0.5">5</text>
<line x1="35.4" y1="708.6" x2="245.5" y2="708.6" stroke="#000" stroke-width="1.8"/><line x1="36.3" y1="708.6" x2="36.3" y2="713.6" stroke="#000" stroke-width="1.8"/><line x1="88" y1="708.6" x2="88" y2="713.6" stroke="#000" stroke-width="1.8"/><line x1="141.8" y1="708.6" x2="141.8" y2="713.6" stroke="#000" stroke-width="1.8"/><line x1="193.5" y1="708.6" x2="193.5" y2="713.6" stroke="#000" stroke-width="1.8"/><line x1="244.6" y1="708.6" x2="244.6" y2="713.6" stroke="#000" stroke-width="1.8"/>
<rect x="48" y="696.25" width="14.5" height="12.35" fill="#000"/><line x1="55.25" y1="693" x2="55.25" y2="696.25" stroke="#000" stroke-width="1.9"/><line x1="52.45" y1="693" x2="58.05" y2="693" stroke="#000" stroke-width="1.9"/>
<rect x="67.5" y="706.8" width="5" height="1.8" fill="#6a6a6a"/>
<rect x="100.5" y="702.5" width="15" height="6.1" fill="#000"/><line x1="108" y1="700" x2="108" y2="702.5" stroke="#000" stroke-width="1.9"/><line x1="105.2" y1="700" x2="110.8" y2="700" stroke="#000" stroke-width="1.9"/>
<rect x="120" y="706.8" width="5" height="1.8" fill="#6a6a6a"/>
<rect x="152.5" y="663.2" width="14.8" height="45.4" fill="#000"/><line x1="159.9" y1="658.7" x2="159.9" y2="663.2" stroke="#000" stroke-width="1.9"/><line x1="157.1" y1="658.7" x2="162.7" y2="658.7" stroke="#000" stroke-width="1.9"/>
<rect x="167.3" y="705.8" width="15.4" height="2.8" fill="#a0a0a0"/><line x1="175" y1="704.2" x2="175" y2="705.8" stroke="#000" stroke-width="1.9"/><line x1="173" y1="704.2" x2="177" y2="704.2" stroke="#000" stroke-width="1.9"/>
<rect x="205.6" y="647" width="14.3" height="61.6" fill="#000"/><line x1="212.75" y1="639" x2="212.75" y2="647" stroke="#000" stroke-width="1.9"/><line x1="209.95" y1="639" x2="215.55" y2="639" stroke="#000" stroke-width="1.9"/>
<rect x="224" y="706.8" width="5" height="1.8" fill="#6a6a6a"/>
<text x="75.06" y="685.07" font-size="12.81" text-anchor="middle" stroke="#000" stroke-width="0.35">*</text><text x="81.19" y="685.07" font-size="12.81" text-anchor="middle" stroke="#000" stroke-width="0.35">*</text>
<text x="126.28" y="685.31" font-size="13.87" text-anchor="middle" stroke="#000" stroke-width="0.35">*</text><text x="132.83" y="685.31" font-size="13.87" text-anchor="middle" stroke="#000" stroke-width="0.35">*</text>
<text x="179.47" y="684.83" font-size="13.33" text-anchor="middle" stroke="#000" stroke-width="0.35">*</text><text x="185.80" y="684.83" font-size="13.33" text-anchor="middle" stroke="#000" stroke-width="0.35">*</text><text x="192.13" y="684.83" font-size="13.33" text-anchor="middle" stroke="#000" stroke-width="0.35">*</text>
<text x="231.63" y="684.75" font-size="13.17" text-anchor="middle" stroke="#000" stroke-width="0.35">*</text><text x="237.90" y="684.75" font-size="13.17" text-anchor="middle" stroke="#000" stroke-width="0.35">*</text><text x="244.17" y="684.75" font-size="13.17" text-anchor="middle" stroke="#000" stroke-width="0.35">*</text>
<text x="51.52" y="724.45" font-size="11.3" textLength="25.45" lengthAdjust="spacingAndGlyphs" stroke="#000" stroke-width="0.5">DN1</text>
<text x="104.02" y="724.45" font-size="11.14" textLength="25.65" lengthAdjust="spacingAndGlyphs" stroke="#000" stroke-width="0.5">DN2</text>
<text x="157.44" y="724.34" font-size="10.99" textLength="24.85" lengthAdjust="spacingAndGlyphs" stroke="#000" stroke-width="0.5">DN3</text>
<text x="210.56" y="724.45" font-size="11.3" textLength="24.36" lengthAdjust="spacingAndGlyphs" stroke="#000" stroke-width="0.5">DN4</text>
<text transform="translate(16.73,689.87) rotate(-90)" x="0" y="0" font-size="11.84" textLength="99.73" lengthAdjust="spacingAndGlyphs" stroke="#000" stroke-width="0.5">Cell number x10</text>
<text transform="translate(13.03,589.93) rotate(-90)" x="0" y="0" font-size="7.04" textLength="5.28" lengthAdjust="spacingAndGlyphs" stroke="#000" stroke-width="0.25">6</text>
<text x="255.87" y="566.35" font-size="17.68" textLength="9.22" lengthAdjust="spacingAndGlyphs" stroke="#000" stroke-width="0.5">F</text>
<rect x="281.5" y="569.1" width="9.3" height="8.6" fill="#000"/><rect x="281.5" y="586.7" width="9.3" height="8" fill="#a0a0a0"/><text x="293.85" y="580.15" font-size="14.93" textLength="24.65" lengthAdjust="spacingAndGlyphs" stroke="#000" stroke-width="0.5">WT</text><text x="292.83" y="595.95" font-size="15.31" textLength="39.11" lengthAdjust="spacingAndGlyphs" stroke="#000" stroke-width="0.5">Miz-1</text><text x="333.96" y="591" font-size="9.86" textLength="7.66" lengthAdjust="spacingAndGlyphs" stroke="#000" stroke-width="0.25" style="font-weight:normal">Δ</text><text x="341.85" y="590.88" font-size="9.52" textLength="23.18" lengthAdjust="spacingAndGlyphs" stroke="#000" stroke-width="0.45">POZ</text>
<line x1="282.7" y1="599.6" x2="282.7" y2="710.6" stroke="#000" stroke-width="1.8"/><line x1="279.1" y1="709.7" x2="282.7" y2="709.7" stroke="#000" stroke-width="1.8"/><text x="272.01" y="715.98" font-size="12.39" textLength="7.55" lengthAdjust="spacingAndGlyphs" stroke="#000" stroke-width="0.5">0</text><line x1="279.1" y1="694.1" x2="282.7" y2="694.1" stroke="#000" stroke-width="1.8"/><text x="272.01" y="700.5" font-size="12.57" textLength="7.55" lengthAdjust="spacingAndGlyphs" stroke="#000" stroke-width="0.5">2</text><line x1="279.1" y1="678.5" x2="282.7" y2="678.5" stroke="#000" stroke-width="1.8"/><text x="271.42" y="684.9" font-size="12.75" textLength="7.66" lengthAdjust="spacingAndGlyphs" stroke="#000" stroke-width="0.5">4</text><line x1="279.1" y1="662.9" x2="282.7" y2="662.9" stroke="#000" stroke-width="1.8"/><text x="271.94" y="669.18" font-size="12.39" textLength="7.55" lengthAdjust="spacingAndGlyphs" stroke="#000" stroke-width="0.5">6</text><line x1="279.1" y1="647.3" x2="282.7" y2="647.3" stroke="#000" stroke-width="1.8"/><text x="271.87" y="653.58" font-size="12.39" textLength="7.55" lengthAdjust="spacingAndGlyphs" stroke="#000" stroke-width="0.5">8</text><line x1="279.1" y1="631.7" x2="282.7" y2="631.7" stroke="#000" stroke-width="1.8"/><text x="264.47" y="637.98" font-size="12.39" textLength="15.1" lengthAdjust="spacingAndGlyphs" stroke="#000" stroke-width="0.5">10</text><line x1="279.1" y1="616.1" x2="282.7" y2="616.1" stroke="#000" stroke-width="1.8"/><text x="264.47" y="622.5" font-size="12.57" textLength="15.1" lengthAdjust="spacingAndGlyphs" stroke="#000" stroke-width="0.5">12</text><line x1="279.1" y1="600.5" x2="282.7" y2="600.5" stroke="#000" stroke-width="1.8"/><text x="263.78" y="606.9" font-size="12.75" textLength="15.32" lengthAdjust="spacingAndGlyphs" stroke="#000" stroke-width="0.5">14</text>
<line x1="281.8" y1="709.7" x2="342" y2="709.7" stroke="#000" stroke-width="1.8"/><line x1="282.7" y1="709.7" x2="282.7" y2="714.7" stroke="#000" stroke-width="1.8"/><line x1="341.1" y1="709.7" x2="341.1" y2="714.7" stroke="#000" stroke-width="1.8"/>
<rect x="295.6" y="633.6" width="17.3" height="76.1" fill="#000"/><line x1="304.25" y1="612.9" x2="304.25" y2="633.6" stroke="#000" stroke-width="1.9"/><line x1="301.35" y1="612.9" x2="307.15" y2="612.9" stroke="#000" stroke-width="1.9"/>
<rect x="318.7" y="707.9" width="6" height="1.8" fill="#6a6a6a"/>
<text x="323.05" y="680.95" font-size="14.25" text-anchor="middle" stroke="#000" stroke-width="0.35">*</text><text x="329.75" y="680.95" font-size="14.25" text-anchor="middle" stroke="#000" stroke-width="0.35">*</text>
<text x="301.06" y="723.65" font-size="10.58" textLength="23.76" lengthAdjust="spacingAndGlyphs" stroke="#000" stroke-width="0.5">ETP</text>
<text transform="translate(260.03,693.87) rotate(-90)" x="0" y="0" font-size="11.84" textLength="100.54" lengthAdjust="spacingAndGlyphs" stroke="#000" stroke-width="0.5">Cell number x10</text>
<text transform="translate(257.13,592.64) rotate(-90)" x="0" y="0" font-size="6.9" textLength="5.28" lengthAdjust="spacingAndGlyphs" stroke="#000" stroke-width="0.25">3</text>
<text x="391.97" y="566.23" font-size="17.25" textLength="13.14" lengthAdjust="spacingAndGlyphs" stroke="#000" stroke-width="0.5">G</text>
<rect x="412.5" y="569.1" width="9.3" height="8.6" fill="#000"/><rect x="412.5" y="586.7" width="9.3" height="8" fill="#a0a0a0"/><text x="424.85" y="580.15" font-size="14.93" textLength="24.65" lengthAdjust="spacingAndGlyphs" stroke="#000" stroke-width="0.5">WT</text><text x="423.83" y="595.95" font-size="15.31" textLength="39.11" lengthAdjust="spacingAndGlyphs" stroke="#000" stroke-width="0.5">Miz-1</text><text x="464.96" y="591" font-size="9.86" textLength="7.66" lengthAdjust="spacingAndGlyphs" stroke="#000" stroke-width="0.25" style="font-weight:normal">Δ</text><text x="472.85" y="590.88" font-size="9.52" textLength="23.18" lengthAdjust="spacingAndGlyphs" stroke="#000" stroke-width="0.45">POZ</text>
<line x1="401.5" y1="601.5" x2="401.5" y2="710.9" stroke="#000" stroke-width="1.8"/><line x1="397" y1="710" x2="401.5" y2="710" stroke="#000" stroke-width="1.8"/><text x="390.53" y="715.88" font-size="11.83" textLength="7.21" lengthAdjust="spacingAndGlyphs" stroke="#000" stroke-width="0.5">0</text><line x1="397" y1="698.04" x2="401.5" y2="698.04" stroke="#000" stroke-width="1.8"/><text x="390.53" y="704.04" font-size="12" textLength="7.21" lengthAdjust="spacingAndGlyphs" stroke="#000" stroke-width="0.5">2</text><line x1="397" y1="686.09" x2="401.5" y2="686.09" stroke="#000" stroke-width="1.8"/><text x="389.97" y="692.09" font-size="12.17" textLength="7.31" lengthAdjust="spacingAndGlyphs" stroke="#000" stroke-width="0.5">4</text><line x1="397" y1="674.13" x2="401.5" y2="674.13" stroke="#000" stroke-width="1.8"/><text x="390.46" y="680.02" font-size="11.83" textLength="7.21" lengthAdjust="spacingAndGlyphs" stroke="#000" stroke-width="0.5">6</text><line x1="397" y1="662.18" x2="401.5" y2="662.18" stroke="#000" stroke-width="1.8"/><text x="390.4" y="668.06" font-size="11.83" textLength="7.21" lengthAdjust="spacingAndGlyphs" stroke="#000" stroke-width="0.5">8</text><line x1="397" y1="650.22" x2="401.5" y2="650.22" stroke="#000" stroke-width="1.8"/><text x="383.33" y="656.1" font-size="11.83" textLength="14.42" lengthAdjust="spacingAndGlyphs" stroke="#000" stroke-width="0.5">10</text><line x1="397" y1="638.27" x2="401.5" y2="638.27" stroke="#000" stroke-width="1.8"/><text x="383.33" y="644.27" font-size="12" textLength="14.42" lengthAdjust="spacingAndGlyphs" stroke="#000" stroke-width="0.5">12</text><line x1="397" y1="626.31" x2="401.5" y2="626.31" stroke="#000" stroke-width="1.8"/><text x="382.67" y="632.31" font-size="12.17" textLength="14.62" lengthAdjust="spacingAndGlyphs" stroke="#000" stroke-width="0.5">14</text><line x1="397" y1="614.36" x2="401.5" y2="614.36" stroke="#000" stroke-width="1.8"/><text x="383.27" y="620.24" font-size="11.83" textLength="14.42" lengthAdjust="spacingAndGlyphs" stroke="#000" stroke-width="0.5">16</text><line x1="397" y1="602.4" x2="401.5" y2="602.4" stroke="#000" stroke-width="1.8"/><text x="383.2" y="608.28" font-size="11.83" textLength="14.42" lengthAdjust="spacingAndGlyphs" stroke="#000" stroke-width="0.5">18</text>
<line x1="400.6" y1="710" x2="516.6" y2="710" stroke="#000" stroke-width="1.8"/><line x1="401.5" y1="710" x2="401.5" y2="715" stroke="#000" stroke-width="1.8"/><line x1="458.5" y1="710" x2="458.5" y2="715" stroke="#000" stroke-width="1.8"/><line x1="515.7" y1="710" x2="515.7" y2="715" stroke="#000" stroke-width="1.8"/>
<rect x="414.7" y="646.7" width="16.4" height="63.3" fill="#000"/><line x1="422.9" y1="638.6" x2="422.9" y2="646.7" stroke="#000" stroke-width="1.9"/><line x1="420.1" y1="638.6" x2="425.7" y2="638.6" stroke="#000" stroke-width="1.9"/>
<rect x="434.9" y="708.4" width="7.1" height="1.6" fill="#6a6a6a"/>
<rect x="471.5" y="621.3" width="16.2" height="88.7" fill="#000"/><line x1="479.6" y1="614.4" x2="479.6" y2="621.3" stroke="#000" stroke-width="1.9"/><line x1="476.8" y1="614.4" x2="482.4" y2="614.4" stroke="#000" stroke-width="1.9"/>
<rect x="491" y="708.4" width="7" height="1.6" fill="#6a6a6a"/>
<text x="439.55" y="681.24" font-size="13.25" text-anchor="middle" stroke="#000" stroke-width="0.35">*</text><text x="445.85" y="681.24" font-size="13.25" text-anchor="middle" stroke="#000" stroke-width="0.35">*</text>
<text x="496.20" y="681.62" font-size="14.00" text-anchor="middle" stroke="#000" stroke-width="0.35">*</text><text x="502.80" y="681.62" font-size="14.00" text-anchor="middle" stroke="#000" stroke-width="0.35">*</text>
<text x="416.47" y="725.24" font-size="10.7" textLength="30.64" lengthAdjust="spacingAndGlyphs" stroke="#000" stroke-width="0.5">DN2a</text>
<text x="471.97" y="725.25" font-size="10.34" textLength="31.17" lengthAdjust="spacingAndGlyphs" stroke="#000" stroke-width="0.5">DN2b</text>
<text transform="translate(382.72,695.86) rotate(-90)" x="0" y="0" font-size="12.52" textLength="99.23" lengthAdjust="spacingAndGlyphs" stroke="#000" stroke-width="0.5">Cell number x10</text>
<text transform="translate(379.43,596.04) rotate(-90)" x="0" y="0" font-size="6.9" textLength="5.39" lengthAdjust="spacingAndGlyphs" stroke="#000" stroke-width="0.25">3</text>
</svg></body></html>
